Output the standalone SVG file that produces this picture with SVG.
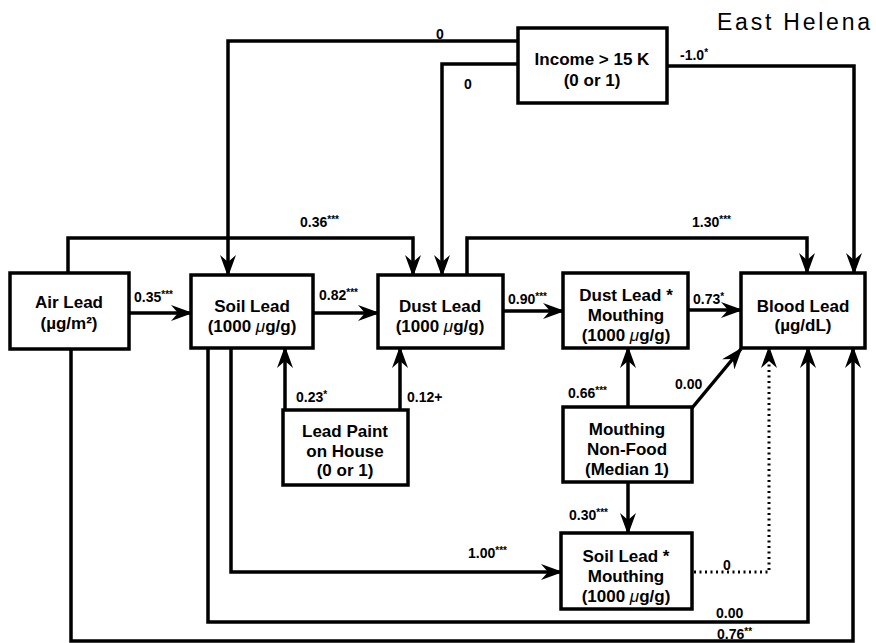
<svg xmlns="http://www.w3.org/2000/svg" width="876" height="643" viewBox="0 0 876 643">
<style>
.box{fill:#fff;stroke:#000;stroke-width:3.5}
.ln{fill:none;stroke:#000;stroke-width:3.5;marker-end:url(#ah)}
.dot{fill:none;stroke:#000;stroke-width:3;stroke-dasharray:2,3.5;marker-end:url(#ah)}
.nt{font-family:"Liberation Sans",Arial,sans-serif;font-size:17px;font-weight:bold;text-anchor:middle;fill:#000}
.el{font-family:"Liberation Sans",Arial,sans-serif;font-size:14px;font-weight:bold;fill:#000}
.sup{font-size:10px}
.mu{font-style:italic;font-weight:normal}
.title{font-family:"Liberation Sans",Arial,sans-serif;font-size:23px;fill:#000}
</style>
<defs>
<marker id="ah" markerUnits="userSpaceOnUse" viewBox="0 0 22 16" markerWidth="22" markerHeight="16" refX="20" refY="8" orient="auto">
<path d="M0,0 L22,8 L0,16 L7,8 z" fill="#000"/>
</marker>
</defs>
<rect width="876" height="643" fill="#fff"/>
<text class="title" x="717" y="30" textLength="153" lengthAdjust="spacing">East Helena</text>
<g id="connectors">
<path class="ln" d="M518,41 H228 V275"/>
<path class="ln" d="M518,64 H442 V275"/>
<path class="ln" d="M667,66 H854 V273"/>
<path class="ln" d="M68,273 V238 H413 V275"/>
<path class="ln" d="M467,275 V238 H807 V273"/>
<path class="ln" d="M129,313 H191"/>
<path class="ln" d="M313,313 H378"/>
<path class="ln" d="M503,311 H563"/>
<path class="ln" d="M688,310 H741"/>
<path class="ln" d="M285,410 V348"/>
<path class="ln" d="M400,410 V348"/>
<path class="ln" d="M628,407 V348"/>
<path class="ln" d="M692,408 L741,349"/>
<path class="ln" d="M628,482 V533"/>
<path class="ln" d="M231,348 V572 H561"/>
<path class="dot" d="M694,572 H769 V348"/>
<path class="ln" d="M208,348 V622 H808 V348"/>
<path class="ln" d="M71,349 V641 H853 V348"/>
<text class="el" x="436" y="39">0</text>
<text class="el" x="464" y="89">0</text>
<text class="el" x="680" y="60">-1.0<tspan class="sup" dy="-4">*</tspan></text>
<text class="el" x="300" y="227">0.36<tspan class="sup" dy="-4">***</tspan></text>
<text class="el" x="692" y="227">1.30<tspan class="sup" dy="-4">***</tspan></text>
<text class="el" x="134" y="302">0.35<tspan class="sup" dy="-4">***</tspan></text>
<text class="el" x="319" y="300">0.82<tspan class="sup" dy="-4">***</tspan></text>
<text class="el" x="508" y="304">0.90<tspan class="sup" dy="-4">***</tspan></text>
<text class="el" x="693" y="304">0.73<tspan class="sup" dy="-4">*</tspan></text>
<text class="el" x="296" y="402">0.23<tspan class="sup" dy="-4">*</tspan></text>
<text class="el" x="407" y="402">0.12+</text>
<text class="el" x="568" y="398">0.66<tspan class="sup" dy="-4">***</tspan></text>
<text class="el" x="675" y="389">0.00</text>
<text class="el" x="569" y="520">0.30<tspan class="sup" dy="-4">***</tspan></text>
<text class="el" x="468" y="558">1.00<tspan class="sup" dy="-4">***</tspan></text>
<text class="el" x="723" y="570">0</text>
<text class="el" x="716" y="618">0.00</text>
<text class="el" x="717" y="639">0.76<tspan class="sup" dy="-4">**</tspan></text>
</g>
<g id="income">
<rect class="box" x="518" y="28" width="149" height="75"/>
<text class="nt" x="592" y="65">Income &gt; 15 K</text>
<text class="nt" x="592" y="86">(0 or 1)</text>
</g>
<g id="air-lead">
<rect class="box" x="10" y="273" width="119" height="76"/>
<text class="nt" x="69" y="308">Air Lead</text>
<text class="nt" x="69" y="329">(µg/m²)</text>
</g>
<g id="soil-lead">
<rect class="box" x="191" y="275" width="122" height="73"/>
<text class="nt" x="252" y="312">Soil Lead</text>
<text class="nt" x="252" y="332">(1000 <tspan class="mu">μ</tspan>g/g)</text>
</g>
<g id="dust-lead">
<rect class="box" x="378" y="275" width="125" height="73"/>
<text class="nt" x="440" y="312">Dust Lead</text>
<text class="nt" x="440" y="332">(1000 <tspan class="mu">μ</tspan>g/g)</text>
</g>
<g id="dust-mouthing">
<rect class="box" x="563" y="273" width="125" height="75"/>
<text class="nt" x="626" y="301">Dust Lead *</text>
<text class="nt" x="626" y="321">Mouthing</text>
<text class="nt" x="626" y="341">(1000 <tspan class="mu">μ</tspan>g/g)</text>
</g>
<g id="blood-lead">
<rect class="box" x="741" y="273" width="124" height="75"/>
<text class="nt" x="803" y="312">Blood Lead</text>
<text class="nt" x="803" y="331">(µg/dL)</text>
</g>
<g id="lead-paint">
<rect class="box" x="283" y="410" width="125" height="75"/>
<text class="nt" x="345" y="437">Lead Paint</text>
<text class="nt" x="345" y="457">on House</text>
<text class="nt" x="345" y="476">(0 or 1)</text>
</g>
<g id="mouthing">
<rect class="box" x="563" y="407" width="129" height="75"/>
<text class="nt" x="627" y="435">Mouthing</text>
<text class="nt" x="627" y="455">Non-Food</text>
<text class="nt" x="627" y="475">(Median 1)</text>
</g>
<g id="soil-mouthing">
<rect class="box" x="561" y="533" width="131" height="76"/>
<text class="nt" x="626" y="562">Soil Lead *</text>
<text class="nt" x="626" y="582">Mouthing</text>
<text class="nt" x="626" y="602">(1000 <tspan class="mu">μ</tspan>g/g)</text>
</g>
</svg>
